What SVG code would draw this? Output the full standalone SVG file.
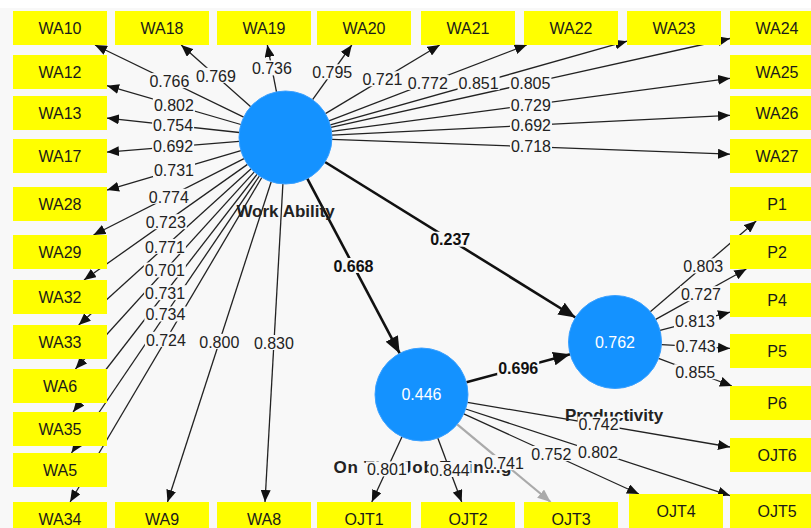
<svg xmlns="http://www.w3.org/2000/svg" width="811" height="528" viewBox="0 0 811 528">
<defs>
<style>
.ln{stroke:#222;stroke-width:1.3;fill:none;marker-end:url(#ah)}
.lg{stroke:#aaa;stroke-width:2.2;fill:none;marker-end:url(#ahg)}
.ls{stroke:#111;stroke-width:2.6;fill:none;marker-end:url(#ahs)}
.box{fill:#ffff00}
.bt{font-family:"Liberation Sans",Arial,sans-serif;font-size:16px;fill:#1a1a1a;text-anchor:middle}
.lv{fill:#1492ff;stroke:#3aa0ff;stroke-width:1}
.lvt{font-family:"Liberation Sans",Arial,sans-serif;font-size:16px;fill:#ffffff;text-anchor:middle}
.nm{font-family:"Liberation Sans",Arial,sans-serif;font-size:17px;font-weight:bold;fill:#222;text-anchor:middle}
.lb{fill:#f8f8f8}
.lt{font-family:"Liberation Sans",Arial,sans-serif;font-size:16px;fill:#222;text-anchor:middle}
.lts{font-family:"Liberation Sans",Arial,sans-serif;font-size:16px;font-weight:bold;fill:#111;text-anchor:middle}
</style>
<marker id="ah" viewBox="0 0 12 10" refX="12" refY="5" markerWidth="12" markerHeight="10" markerUnits="userSpaceOnUse" orient="auto"><path d="M0,0 L12,5 L0,10 z" fill="#111"/></marker>
<marker id="ahg" viewBox="0 0 12 10" refX="12" refY="5" markerWidth="13" markerHeight="11" markerUnits="userSpaceOnUse" orient="auto"><path d="M0,0 L12,5 L0,10 z" fill="#aaa"/></marker>
<marker id="ahs" viewBox="0 0 16 13" refX="16" refY="6.5" markerWidth="17" markerHeight="14" markerUnits="userSpaceOnUse" orient="auto"><path d="M0,0 L16,6.5 L0,13 z" fill="#111"/></marker>
</defs>
<rect x="0" y="0" width="811" height="528" fill="#ffffff"/>
<rect x="0" y="8" width="811" height="520" fill="#f8f8f8"/>

<g id="connectors">
<line class="ln" x1="243.7" y1="117.2" x2="95" y2="45"/>
<line class="ln" x1="250.7" y1="106.7" x2="181.2" y2="45"/>
<line class="ln" x1="276.5" y1="91.9" x2="267.3" y2="45"/>
<line class="ln" x1="312.6" y1="99.7" x2="351.8" y2="45"/>
<line class="ln" x1="325.4" y1="113.6" x2="439.7" y2="45"/>
<line class="ln" x1="328.9" y1="120.8" x2="526.7" y2="45"/>
<line class="ln" x1="330.3" y1="124.9" x2="627" y2="41.2"/>
<line class="ln" x1="330.9" y1="127.4" x2="730" y2="38.5"/>
<line class="ln" x1="331.6" y1="131.4" x2="730" y2="78.3"/>
<line class="ln" x1="331.9" y1="135.2" x2="730" y2="115.3"/>
<line class="ln" x1="332" y1="139.3" x2="730" y2="154.2"/>
<line class="ln" x1="240.8" y1="124.5" x2="107" y2="85.7"/>
<line class="ln" x1="239.3" y1="132.5" x2="107" y2="118.1"/>
<line class="ln" x1="239.2" y1="141.3" x2="107" y2="152.1"/>
<line class="ln" x1="240.9" y1="150.7" x2="107" y2="190.1"/>
<line class="ln" x1="244" y1="158.6" x2="93.5" y2="235"/>
<line class="ln" x1="247.5" y1="164.4" x2="84" y2="280"/>
<line class="ln" x1="251.1" y1="168.7" x2="78.7" y2="325"/>
<line class="ln" x1="254.3" y1="171.9" x2="75.4" y2="369"/>
<line class="ln" x1="257" y1="174.3" x2="73.1" y2="412"/>
<line class="ln" x1="259.4" y1="176" x2="71.5" y2="453"/>
<line class="ln" x1="261.8" y1="177.5" x2="70.1" y2="502"/>
<line class="ln" x1="271.2" y1="181.7" x2="167.5" y2="502"/>
<line class="ln" x1="282.9" y1="183.9" x2="265" y2="502"/>
<line class="ls" x1="325" y1="162" x2="575.5" y2="317.5"/>
<line class="ls" x1="307.3" y1="178.6" x2="399.7" y2="353.4"/>
<line class="ls" x1="466.4" y1="382.3" x2="570.1" y2="354.2"/>
<line class="ln" x1="650.3" y1="311.7" x2="756.2" y2="221"/>
<line class="ln" x1="655.7" y1="319.4" x2="746.4" y2="269"/>
<line class="ln" x1="660" y1="330.3" x2="730" y2="312.2"/>
<line class="ln" x1="661.4" y1="344.6" x2="730" y2="348.4"/>
<line class="ln" x1="658.5" y1="358.4" x2="731.9" y2="386"/>
<line class="ln" x1="467.4" y1="402.3" x2="730" y2="447"/>
<line class="ln" x1="465.7" y1="409" x2="730" y2="495.6"/>
<line class="ln" x1="463.8" y1="413.9" x2="638.9" y2="494"/>
<line class="lg" x1="457.2" y1="424.3" x2="550.6" y2="502"/>
<line class="ln" x1="437.8" y1="438.1" x2="461.7" y2="502"/>
<line class="ln" x1="402" y1="436.7" x2="371.8" y2="502"/>
</g>

<g id="nodes">
<g id="WA10"><rect class="box" x="13" y="11" width="94" height="34"/><text class="bt" x="60" y="34">WA10</text></g>
<g id="WA18"><rect class="box" x="115" y="11" width="94" height="34"/><text class="bt" x="162" y="34">WA18</text></g>
<g id="WA19"><rect class="box" x="217" y="11" width="94" height="34"/><text class="bt" x="264" y="34">WA19</text></g>
<g id="WA20"><rect class="box" x="317" y="11" width="94" height="34"/><text class="bt" x="364" y="34">WA20</text></g>
<g id="WA21"><rect class="box" x="421" y="11" width="94" height="34"/><text class="bt" x="468" y="34">WA21</text></g>
<g id="WA22"><rect class="box" x="524" y="11" width="94" height="34"/><text class="bt" x="571" y="34">WA22</text></g>
<g id="WA23"><rect class="box" x="627" y="11" width="94" height="34"/><text class="bt" x="674" y="34">WA23</text></g>
<g id="WA24"><rect class="box" x="730" y="11" width="94" height="34"/><text class="bt" x="777" y="34">WA24</text></g>
<g id="WA12"><rect class="box" x="13" y="55" width="94" height="34"/><text class="bt" x="60" y="78">WA12</text></g>
<g id="WA13"><rect class="box" x="13" y="96" width="94" height="34"/><text class="bt" x="60" y="119">WA13</text></g>
<g id="WA17"><rect class="box" x="13" y="139" width="94" height="34"/><text class="bt" x="60" y="162">WA17</text></g>
<g id="WA28"><rect class="box" x="13" y="187" width="94" height="34"/><text class="bt" x="60" y="210">WA28</text></g>
<g id="WA29"><rect class="box" x="13" y="235" width="94" height="34"/><text class="bt" x="60" y="258">WA29</text></g>
<g id="WA32"><rect class="box" x="13" y="280" width="94" height="34"/><text class="bt" x="60" y="303">WA32</text></g>
<g id="WA33"><rect class="box" x="13" y="325" width="94" height="34"/><text class="bt" x="60" y="348">WA33</text></g>
<g id="WA6"><rect class="box" x="13" y="369" width="94" height="34"/><text class="bt" x="60" y="392">WA6</text></g>
<g id="WA35"><rect class="box" x="13" y="412" width="94" height="34"/><text class="bt" x="60" y="435">WA35</text></g>
<g id="WA5"><rect class="box" x="13" y="453" width="94" height="34"/><text class="bt" x="60" y="476">WA5</text></g>
<g id="WA34"><rect class="box" x="13" y="502" width="94" height="34"/><text class="bt" x="60" y="525">WA34</text></g>
<g id="WA9"><rect class="box" x="115" y="502" width="94" height="34"/><text class="bt" x="162" y="525">WA9</text></g>
<g id="WA8"><rect class="box" x="217" y="502" width="94" height="34"/><text class="bt" x="264" y="525">WA8</text></g>
<g id="OJT1"><rect class="box" x="317" y="502" width="94" height="34"/><text class="bt" x="364" y="525">OJT1</text></g>
<g id="OJT2"><rect class="box" x="421" y="502" width="94" height="34"/><text class="bt" x="468" y="525">OJT2</text></g>
<g id="OJT3"><rect class="box" x="524" y="502" width="94" height="34"/><text class="bt" x="571" y="525">OJT3</text></g>
<g id="OJT4"><rect class="box" x="629" y="494" width="94" height="34"/><text class="bt" x="676" y="517">OJT4</text></g>
<g id="OJT5"><rect class="box" x="730" y="494" width="94" height="34"/><text class="bt" x="777" y="517">OJT5</text></g>
<g id="WA25"><rect class="box" x="730" y="55" width="94" height="34"/><text class="bt" x="777" y="78">WA25</text></g>
<g id="WA26"><rect class="box" x="730" y="96" width="94" height="34"/><text class="bt" x="777" y="119">WA26</text></g>
<g id="WA27"><rect class="box" x="730" y="139" width="94" height="34"/><text class="bt" x="777" y="162">WA27</text></g>
<g id="P1"><rect class="box" x="730" y="187" width="94" height="34"/><text class="bt" x="777" y="210">P1</text></g>
<g id="P2"><rect class="box" x="730" y="235" width="94" height="34"/><text class="bt" x="777" y="258">P2</text></g>
<g id="P4"><rect class="box" x="730" y="283" width="94" height="34"/><text class="bt" x="777" y="306">P4</text></g>
<g id="P5"><rect class="box" x="730" y="334" width="94" height="34"/><text class="bt" x="777" y="357">P5</text></g>
<g id="P6"><rect class="box" x="730" y="386" width="94" height="34"/><text class="bt" x="777" y="409">P6</text></g>
<g id="OJT6"><rect class="box" x="730" y="438" width="94" height="34"/><text class="bt" x="777" y="461">OJT6</text></g>
<g id="WorkAbility"><circle class="lv" cx="285.5" cy="137.5" r="46.5"/><text class="nm" x="285.5" y="217">Work Ability</text></g>
<g id="Productivity"><circle class="lv" cx="615" cy="342" r="46.5"/><text class="lvt" x="615" y="348">0.762</text><text class="nm" x="614" y="421">Productivity</text></g>
<g id="OnTheJobTraining"><circle class="lv" cx="421.5" cy="394.5" r="46.5"/><text class="lvt" x="421.5" y="400">0.446</text><text class="nm" x="422.5" y="473" textLength="178">On The Job Training</text></g>
</g>

<g id="connector-labels">
<g><rect class="lb" x="148.4" y="73.1" width="42" height="15"/><text class="lt" x="169.4" y="86.8">0.766</text></g>
<g><rect class="lb" x="194.9" y="67.8" width="42" height="15"/><text class="lt" x="215.9" y="81.5">0.769</text></g>
<g><rect class="lb" x="250.9" y="60.4" width="42" height="15"/><text class="lt" x="271.9" y="74.1">0.736</text></g>
<g><rect class="lb" x="311.2" y="64.3" width="42" height="15"/><text class="lt" x="332.2" y="78">0.795</text></g>
<g><rect class="lb" x="361.5" y="71.3" width="42" height="15"/><text class="lt" x="382.5" y="85">0.721</text></g>
<g><rect class="lb" x="406.8" y="74.9" width="42" height="15"/><text class="lt" x="427.8" y="88.6">0.772</text></g>
<g><rect class="lb" x="457.6" y="75.1" width="42" height="15"/><text class="lt" x="478.6" y="88.8">0.851</text></g>
<g><rect class="lb" x="509.4" y="74.9" width="42" height="15"/><text class="lt" x="530.4" y="88.6">0.805</text></g>
<g><rect class="lb" x="509.8" y="96.8" width="42" height="15"/><text class="lt" x="530.8" y="110.5">0.729</text></g>
<g><rect class="lb" x="510" y="117.3" width="42" height="15"/><text class="lt" x="531" y="131">0.692</text></g>
<g><rect class="lb" x="510" y="138.7" width="42" height="15"/><text class="lt" x="531" y="152.4">0.718</text></g>
<g><rect class="lb" x="152.9" y="97.1" width="42" height="15"/><text class="lt" x="173.9" y="110.8">0.802</text></g>
<g><rect class="lb" x="152.1" y="117.3" width="42" height="15"/><text class="lt" x="173.1" y="131">0.754</text></g>
<g><rect class="lb" x="152.1" y="138.7" width="42" height="15"/><text class="lt" x="173.1" y="152.4">0.692</text></g>
<g><rect class="lb" x="153" y="162.4" width="42" height="15"/><text class="lt" x="174" y="176.1">0.731</text></g>
<g><rect class="lb" x="147.8" y="188.8" width="42" height="15"/><text class="lt" x="168.8" y="202.5">0.774</text></g>
<g><rect class="lb" x="144.8" y="214.2" width="42" height="15"/><text class="lt" x="165.8" y="227.9">0.723</text></g>
<g><rect class="lb" x="143.9" y="238.9" width="42" height="15"/><text class="lt" x="164.9" y="252.6">0.771</text></g>
<g><rect class="lb" x="143.8" y="262.5" width="42" height="15"/><text class="lt" x="164.8" y="276.2">0.701</text></g>
<g><rect class="lb" x="144.1" y="285.2" width="42" height="15"/><text class="lt" x="165.1" y="298.9">0.731</text></g>
<g><rect class="lb" x="144.4" y="306.5" width="42" height="15"/><text class="lt" x="165.4" y="320.2">0.734</text></g>
<g><rect class="lb" x="144.9" y="331.8" width="42" height="15"/><text class="lt" x="165.9" y="345.5">0.724</text></g>
<g><rect class="lb" x="198.3" y="333.9" width="42" height="15"/><text class="lt" x="219.3" y="347.6">0.800</text></g>
<g><rect class="lb" x="252.9" y="335" width="42" height="15"/><text class="lt" x="273.9" y="348.7">0.830</text></g>
<g><rect class="lb" x="429.2" y="231.7" width="42" height="15"/><text class="lts" x="450.2" y="245.4">0.237</text></g>
<g><rect class="lb" x="332.5" y="258" width="42" height="15"/><text class="lts" x="353.5" y="271.7">0.668</text></g>
<g><rect class="lb" x="497.2" y="360.2" width="42" height="15"/><text class="lts" x="518.2" y="373.9">0.696</text></g>
<g><rect class="lb" x="682.2" y="258.4" width="42" height="15"/><text class="lt" x="703.2" y="272.1">0.803</text></g>
<g><rect class="lb" x="680" y="286.2" width="42" height="15"/><text class="lt" x="701" y="299.9">0.727</text></g>
<g><rect class="lb" x="674" y="313.3" width="42" height="15"/><text class="lt" x="695" y="327">0.813</text></g>
<g><rect class="lb" x="674.7" y="338.5" width="42" height="15"/><text class="lt" x="695.7" y="352.2">0.743</text></g>
<g><rect class="lb" x="674.2" y="364.2" width="42" height="15"/><text class="lt" x="695.2" y="377.9">0.855</text></g>
<g><rect class="lb" x="577.6" y="416.6" width="42" height="15"/><text class="lt" x="598.6" y="430.3">0.742</text></g>
<g><rect class="lb" x="576.9" y="444.3" width="42" height="15"/><text class="lt" x="597.9" y="458">0.802</text></g>
<g><rect class="lb" x="530.3" y="446" width="42" height="15"/><text class="lt" x="551.3" y="459.7">0.752</text></g>
<g><rect class="lb" x="482.9" y="455.1" width="42" height="15"/><text class="lt" x="503.9" y="468.8">0.741</text></g>
<g><rect class="lb" x="428.7" y="462" width="42" height="15"/><text class="lt" x="449.7" y="475.7">0.844</text></g>
<g><rect class="lb" x="365.9" y="461.4" width="42" height="15"/><text class="lt" x="386.9" y="475.1">0.801</text></g>
</g>
</svg>
